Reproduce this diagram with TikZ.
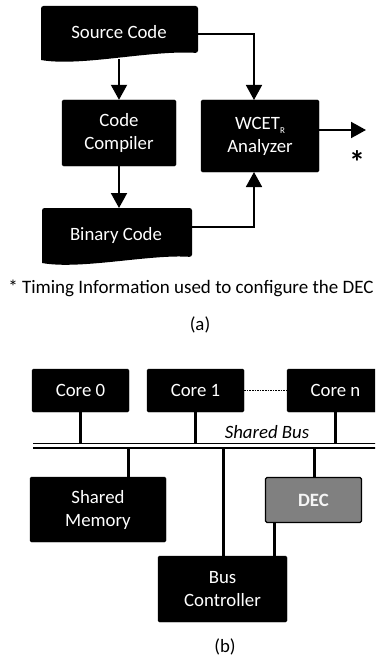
\documentclass[tikz,border=0pt]{standalone}
\usepackage{fontspec}
\setmainfont{Carlito}
\usetikzlibrary{arrows.meta}
\begin{document}
\begin{tikzpicture}[x=1pt,y=-1pt,
 box/.style={fill=black,draw=black,rounded corners=1.5pt,text=white,align=center,inner sep=0pt,font=\fontsize{18.8}{23}\selectfont},
 lbl/.style={text=white,align=center,inner sep=0pt,font=\fontsize{18.8}{23}\selectfont},
 plain/.style={text=black,align=center,inner sep=0pt,font=\fontsize{18.8}{23}\selectfont},
 arr/.style={line width=2pt,-{Triangle[length=15pt,width=16pt]}},
 link/.style={line width=3pt},
 busline/.style={line width=1.7pt},
 dots/.style={line width=0.8pt,dash pattern=on 1.6pt off 1pt}
]
\useasboundingbox (0,0) rectangle (375,658);
\clip (0,0) rectangle (375,658);

% ---------- (a) ----------
\fill (41,60) [rounded corners=2.5pt] -- (41,6) -- (198,6) -- (198,53) [sharp corners] .. controls (150,50) and (80,67) .. (41,60) -- cycle;
\node[lbl] (src) at (119,32) {Source Code};

\node[box,minimum width=114pt,minimum height=66pt] (cc) at (119,133) {Code\\Compiler};
\node[box,minimum width=118pt,minimum height=72pt] (wc) at (260,136) {WCET\raisebox{-4pt}{\fontsize{9}{9}\selectfont R}\\Analyzer};

\fill (42,263) [rounded corners=2.5pt] -- (42,208) -- (192,208) -- (192,257) [sharp corners] .. controls (150,254) and (80,270) .. (42,263) -- cycle;
\node[lbl] (bin) at (116,235) {Binary Code};

\coordinate (srcbot) at (119,59.5);
\coordinate (srcright) at (198,34);
\coordinate (wctop) at (254,100);
\coordinate (bintop) at (119,208);
\coordinate (binright) at (192,227);
\coordinate (wcbot) at (254,172);
\coordinate (out) at (366,130);

\draw[arr] (srcbot) -- (cc.north);
\draw[arr] (cc.south) -- (bintop);
\draw[arr,line width=1.5pt] (srcright) -| (wctop);
\draw[arr,line width=1.7pt] (binright) -| (wcbot);
\draw[arr] (wc.east |- out) -- (out);
\node[plain,font=\bfseries\fontsize{32}{32}\selectfont] (ast) at (357,162) {*};

\node[plain,font=\fontsize{19}{22}\selectfont] (cap) at (191,288) {* Timing Information used to configure the DEC};
\node[plain] (la) at (200,325) {(a)};

% ---------- (b) ----------
\node[box,minimum width=97pt,minimum height=43pt] (c0) at (80.5,390.5) {Core 0};
\node[box,minimum width=97pt,minimum height=43pt] (c1) at (195.5,390.5) {Core 1};
\node[box,minimum width=97pt,minimum height=43pt] (cn) at (335.5,390.5) {Core n};
\draw[dots] (c1.east) -- (cn.west);

\coordinate (bus1l) at (33,443.5);
\coordinate (bus1r) at (380,443.5);
\coordinate (bus2l) at (33,448);
\coordinate (bus2r) at (380,448);
\draw[busline] (bus1l) -- (bus1r);
\draw[busline] (bus2l) -- (bus2r);
\node[plain,font=\itshape\fontsize{18.8}{23}\selectfont] (sb) at (267,432) {Shared Bus};

\draw[link] (c0.south) -- (c0.south |- bus1l);
\draw[link] (c1.south) -- (c1.south |- bus1l);
\draw[link] (cn.south) -- (cn.south |- bus1l);

\node[box,minimum width=136pt,minimum height=65pt] (sm) at (98,509.5) {Shared\\Memory};
\node[box,fill=black!50,draw=black,line width=1.3pt,minimum width=96pt,minimum height=45pt,text=black!4,font=\bfseries\fontsize{18.8}{23}\selectfont] (dec) at (313.5,500) {DEC};
\node[box,minimum width=129pt,minimum height=66pt] (bc) at (222.5,589) {Bus\\Controller};

\coordinate (smtop) at (128,477);
\coordinate (bctop) at (223,556);
\coordinate (dectop) at (314,477);
\coordinate (decbot) at (274,523);
\coordinate (bctop2) at (274,556);

\draw[link] (smtop |- bus2l) -- (smtop);
\draw[link] (bctop |- bus2l) -- (bctop);
\draw[link] (dectop |- bus2l) -- (dectop);
\draw[link] (decbot) -- (bctop2);

\node[plain] (lb) at (225,647) {(b)};
\end{tikzpicture}
\end{document}
